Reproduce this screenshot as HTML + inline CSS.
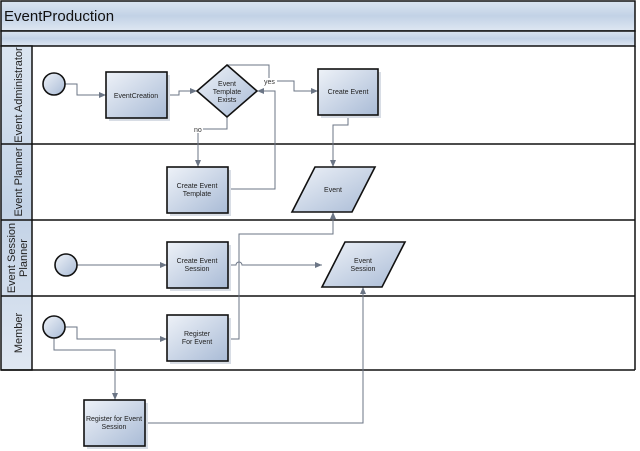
<!DOCTYPE html>
<html><head><style>body{margin:0;background:#fff}svg{display:block}text{font-family:"Liberation Sans",sans-serif}</style></head><body>
<svg width="640" height="451" viewBox="0 0 640 451" xmlns="http://www.w3.org/2000/svg">
<defs>
<linearGradient id="g" x1="0" y1="0" x2="1" y2="1"><stop offset="0" stop-color="#eef2f8"/><stop offset="1" stop-color="#a9bbd6"/></linearGradient>
<linearGradient id="h" x1="0" y1="0" x2="0" y2="1"><stop offset="0" stop-color="#dbe5f1"/><stop offset="0.5" stop-color="#c2d2e6"/><stop offset="1" stop-color="#dfe7f2"/></linearGradient>
<marker id="a" markerWidth="8" markerHeight="8" refX="7" refY="4" orient="auto" markerUnits="userSpaceOnUse"><path d="M0,1 L7,4 L0,7z" fill="#6b7585"/></marker>
</defs>
<rect x="1" y="1" width="634" height="30" fill="url(#h)" stroke="#111" stroke-width="1.5"/>
<text x="4" y="21" font-size="15" fill="#111">EventProduction</text>
<rect x="1" y="31" width="634" height="15" fill="url(#h)" stroke="#111" stroke-width="1.5"/>
<rect x="1" y="46" width="31" height="324" fill="url(#h)" stroke="#111" stroke-width="1.5"/>
<g stroke="#111" stroke-width="1.5" fill="none">
<line x1="1" y1="144" x2="635" y2="144"/><line x1="1" y1="220" x2="635" y2="220"/><line x1="1" y1="296" x2="635" y2="296"/><line x1="1" y1="370" x2="635" y2="370"/>
<line x1="635" y1="46" x2="635" y2="370"/></g>
<g font-size="11" fill="#222" text-anchor="middle">
<text transform="translate(22,95) rotate(-90)">Event Administrator</text>
<text transform="translate(22,182) rotate(-90)">Event Planner</text>
<text transform="translate(15,258) rotate(-90)">Event Session</text>
<text transform="translate(27,258) rotate(-90)">Planner</text>
<text transform="translate(22,333) rotate(-90)">Member</text>
</g>
<g stroke="#6b7585" stroke-width="1" fill="none">
<path d="M65,84H77V95H106" marker-end="url(#a)"/>
<path d="M167,95H179V91H197" marker-end="url(#a)"/>
<path d="M227,65H269V78"/><path d="M277,81H294V91H318" marker-end="url(#a)"/>
<path d="M227,117V129H203"/><path d="M198,133V167" marker-end="url(#a)"/>
<path d="M228,189H275V91H257" marker-end="url(#a)"/>
<path d="M348,115V125H333V167" marker-end="url(#a)"/>
<path d="M77,265H167" marker-end="url(#a)"/>
<path d="M228,265H236A3,3 0 0 1 242,265H322" marker-end="url(#a)"/>
<path d="M228,339H239V234H333V212" marker-end="url(#a)"/>
<path d="M65,327H77V339H167" marker-end="url(#a)"/>
<path d="M54,338V350H115V400" marker-end="url(#a)"/>
<path d="M145,423H363V287" marker-end="url(#a)"/>
</g>
<g font-size="7" fill="#333"><text x="264" y="84">yes</text><text x="194" y="132">no</text></g>
<g fill="#d8dde5">
<rect x="109" y="75" width="61" height="46"/><rect x="321" y="72" width="60" height="46"/><rect x="170" y="170" width="61" height="46"/><rect x="170" y="245" width="61" height="46"/><rect x="170" y="318" width="61" height="46"/><rect x="87" y="403" width="61" height="46"/>
</g>
<g stroke="#111" stroke-width="1.6" fill="url(#g)">
<circle cx="54" cy="84" r="11"/><circle cx="66" cy="265" r="11"/><circle cx="54" cy="327" r="11"/>
<rect x="106" y="72" width="61" height="46"/>
<path d="M227,65L257,91L227,117L197,91z"/>
<rect x="318" y="69" width="60" height="46"/>
<rect x="167" y="167" width="61" height="46"/>
<path d="M315,167H375L352,212H292z"/>
<rect x="167" y="242" width="61" height="46"/>
<path d="M345,242H405L382,287H322z"/>
<rect x="167" y="315" width="61" height="46"/>
<rect x="84" y="400" width="61" height="46"/>
</g>
<g font-size="7" fill="#222" text-anchor="middle">
<text x="136" y="98">EventCreation</text>
<text x="227" y="86">Event</text><text x="227" y="94">Template</text><text x="227" y="102">Exists</text>
<text x="348" y="94">Create Event</text>
<text x="197" y="188">Create Event</text><text x="197" y="196">Template</text>
<text x="333" y="192">Event</text>
<text x="197" y="263">Create Event</text><text x="197" y="271">Session</text>
<text x="363" y="263">Event</text><text x="363" y="271">Session</text>
<text x="197" y="336">Register</text><text x="197" y="344">For Event</text>
<text x="114" y="421">Register for Event</text><text x="114" y="429">Session</text>
</g>
</svg>
</body></html>
